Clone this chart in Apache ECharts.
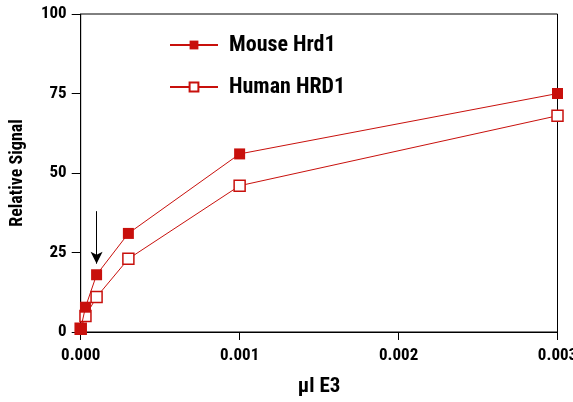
<!DOCTYPE html>
<html><head><meta charset="utf-8">
<script src="https://cdn.jsdelivr.net/npm/echarts@6/dist/echarts.min.js"></script>
<style>html,body{margin:0;padding:0;background:#fff}#c{width:573px;height:402px}</style>
</head><body><div id="c"></div>
<script>
var xValues = [0, 0.00003, 0.0001, 0.0003, 0.001, 0.003];
var mouseHrd1 = [1, 7.8, 18, 31, 56, 75];
var humanHRD1 = [1, 5, 11, 23, 46, 68];
var xTicks = [0, 0.001, 0.002, 0.003];
var yTicks = [0, 25, 50, 75, 100];
var arrowAt = [[0.0001, 38], [0.0001, 21.5]];
var seriesNames = ['Mouse Hrd1', 'Human HRD1'];

var FONT = '"Roboto Condensed","Open Sans Condensed",sans-serif';
var RED = '#c8100c';
function pairs(xs, ys){ return xs.map(function(x,i){ return [x, ys[i]]; }); }

var chart = echarts.init(document.getElementById('c'), null, {renderer:'canvas'});
chart.setOption({
  animation:false,
  textStyle:{fontFamily:FONT},
  grid:{left:80.7, right:15.5, top:14, bottom:70, containLabel:false, outerBoundsMode:'none',
        show:true, borderColor:'#000', borderWidth:1},
  legend:{
    orient:'vertical', left:164, top:29, itemGap:20, itemWidth:48, itemHeight:11,
    textStyle:{fontFamily:FONT, fontSize:22, color:'#000', fontWeight:'bold', padding:[0,0,0,6]},
    data:seriesNames
  },
  xAxis:{
    type:'value', min:xTicks[0], max:xTicks[xTicks.length-1], interval:0.001,
    name:'\u03bcl E3', nameLocation:'middle', nameGap:44,
    nameTextStyle:{fontFamily:FONT, fontSize:21, color:'#000', fontWeight:'bold'},
    axisLine:{show:true, lineStyle:{color:'#000', width:1}},
    axisTick:{show:true, length:8, lineStyle:{color:'#000'}},
    axisLabel:{margin:15, fontSize:17, color:'#000', fontWeight:'bold', fontFamily:FONT,
      formatter:function(v){ return v.toFixed(3); }},
    splitLine:{show:false}
  },
  yAxis:{
    type:'value', min:yTicks[0], max:yTicks[yTicks.length-1], interval:25,
    name:'Relative Signal', nameLocation:'middle', nameGap:54,
    nameTextStyle:{fontFamily:FONT, fontSize:18, color:'#000', fontWeight:'bold'},
    axisLine:{show:true, lineStyle:{color:'#000', width:1}},
    axisTick:{show:true, length:9, lineStyle:{color:'#000'}},
    axisLabel:{margin:14, fontSize:17, color:'#000', fontWeight:'bold', fontFamily:FONT},
    splitLine:{show:false}
  },
  series:[
    {
      name:seriesNames[1], type:'line', data:pairs(xValues, humanHRD1),
      symbol:'rect', symbolSize:11, z:2,
      lineStyle:{color:RED, width:1},
      itemStyle:{color:'#fff', borderColor:RED, borderWidth:1.5}
    },
    {
      name:seriesNames[0], type:'line', data:pairs(xValues, mouseHrd1),
      symbol:'rect', symbolSize:11, z:3,
      lineStyle:{color:RED, width:1},
      itemStyle:{color:RED, borderColor:RED, borderWidth:0},
      markLine:{
        silent:true, symbol:['none','arrow'], symbolSize:[9,12],
        label:{show:false},
        lineStyle:{color:'#000', width:1, type:'solid'},
        data:[[{coord:arrowAt[0]},{coord:arrowAt[1]}]]
      }
    }
  ]
});
</script></body></html>
